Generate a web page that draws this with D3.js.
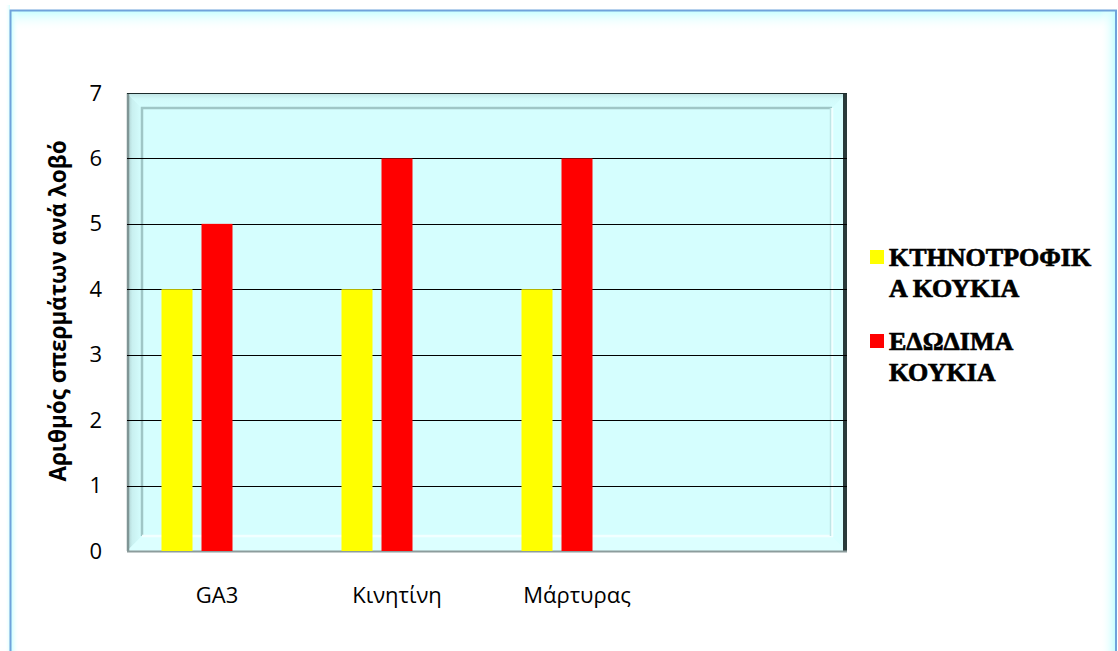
<!DOCTYPE html>
<html>
<head>
<meta charset="utf-8">
<script src="https://cdn.jsdelivr.net/npm/d3@7"></script>
<style>
  html, body { margin: 0; padding: 0; background: #ffffff; }
  svg { display: block; }
</style>
</head>
<body>
<svg id="chart" width="1118" height="651"></svg>
<script>
// Seeds per pod by treatment, for fodder beans and edible beans
const categories = ["GA3", "Κινητίνη", "Μάρτυρας", ""];
const seriesNames = ["ΚΤΗΝΟΤΡΟΦΙΚΑ ΚΟΥΚΙΑ", "ΕΔΩΔΙΜΑ ΚΟΥΚΙΑ"];
const legendLines = [["ΚΤΗΝΟΤΡΟΦΙΚ", "Α ΚΟΥΚΙΑ"], ["ΕΔΩΔΙΜΑ", "ΚΟΥΚΙΑ"]];
const fodderValues = [4, 4, 4, null];
const edibleValues = [5, 6, 6, null];
const seriesColors = ["#ffff00", "#ff0000"];
const yTicks = [0, 1, 2, 3, 4, 5, 6, 7];
const yTitle = "Αριθμός σπερμάτων ανά λοβό";

const svg = d3.select("#chart");
const W = 1118, H = 651;
const plot = { left: 127, top: 93, right: 847, bottom: 551 };
const bevel = 15;

const defs = svg.append("defs");

// ---- outer chart frame with a soft cyan inner glow ----
function edgeGradient(id, x1, y1, x2, y2) {
  const g = defs.append("linearGradient").attr("id", id)
    .attr("x1", x1).attr("y1", y1).attr("x2", x2).attr("y2", y2);
  g.append("stop").attr("offset", "0%").attr("stop-color", "#c8ffff");
  g.append("stop").attr("offset", "100%").attr("stop-color", "#ffffff").attr("stop-opacity", 0);
}
edgeGradient("glowTop", 0, 0, 0, 1);
edgeGradient("glowLeft", 0, 0, 1, 0);
edgeGradient("glowRight", 1, 0, 0, 0);

svg.append("rect").attr("x", 0).attr("y", 0).attr("width", W).attr("height", H).attr("fill", "#ffffff");
svg.append("rect").attr("x", 11).attr("y", 11).attr("width", 1104).attr("height", 20).attr("fill", "url(#glowTop)");
svg.append("rect").attr("x", 11).attr("y", 11).attr("width", 8).attr("height", H).attr("fill", "url(#glowLeft)");
svg.append("rect").attr("x", 1100).attr("y", 11).attr("width", 15).attr("height", H).attr("fill", "url(#glowRight)");
svg.append("rect").attr("x", 5).attr("y", 5).attr("width", 5).attr("height", H).attr("fill", "url(#glowRight)").attr("opacity", 0.7);
svg.append("rect").attr("x", 10.5).attr("y", 10.5).attr("width", 1105.5).attr("height", 700)
  .attr("fill", "none").attr("stroke", "#6fa3db").attr("stroke-width", 2);

// ---- scales ----
const x0 = d3.scaleBand().domain(categories).range([plot.left, plot.right]).padding(0);
const slotKeys = ["fodder", "edible", "spare"];
const x1 = d3.scaleBand().domain(slotKeys).range([0, x0.bandwidth()])
  .paddingInner(0.225).paddingOuter(0.8625);
const y = d3.scaleLinear().domain([0, 7]).range([plot.bottom, plot.top]);

// ---- plot area: light cyan wall with a bevelled frame ----
const pa = svg.append("g");
const pw = plot.right - plot.left, ph = plot.bottom - plot.top;
pa.append("rect").attr("x", plot.left).attr("y", plot.top).attr("width", pw).attr("height", ph).attr("fill", "#d5fefe");

const sideL = defs.append("linearGradient").attr("id", "sideL").attr("x1", 0).attr("x2", 1).attr("y1", 0).attr("y2", 0);
sideL.append("stop").attr("offset", "0%").attr("stop-color", "#a9caca");
sideL.append("stop").attr("offset", "35%").attr("stop-color", "#c9f0f0");
sideL.append("stop").attr("offset", "100%").attr("stop-color", "#d5fefe");
const sideT = defs.append("linearGradient").attr("id", "sideT").attr("x1", 0).attr("x2", 0).attr("y1", 0).attr("y2", 1);
sideT.append("stop").attr("offset", "0%").attr("stop-color", "#bfe2e2");
sideT.append("stop").attr("offset", "40%").attr("stop-color", "#d2fafa");
sideT.append("stop").attr("offset", "100%").attr("stop-color", "#d5fefe");

const L = plot.left, T = plot.top, R = plot.right, B = plot.bottom;
// left bevel face
pa.append("path").attr("d", `M${L},${T}L${L + bevel},${T + bevel}L${L + bevel},${B - bevel}L${L},${B}Z`).attr("fill", "url(#sideL)");
// top bevel face
pa.append("path").attr("d", `M${L},${T}L${R},${T}L${R - bevel},${T + bevel}L${L + bevel},${T + bevel}Z`).attr("fill", "url(#sideT)");
// bottom and right faces catch the light
pa.append("path").attr("d", `M${L},${B}L${L + bevel},${B - bevel}L${R - bevel},${B - bevel}L${R},${B}Z`).attr("fill", "#dcffff");
pa.append("path").attr("d", `M${R},${T}L${R},${B}L${R - bevel},${B - bevel}L${R - bevel},${T + bevel}Z`).attr("fill", "#d8ffff");
// inner edges of the bevel
pa.append("path").attr("d", `M${L + bevel},${B - bevel}V${T + bevel}H${R - bevel}`)
  .attr("fill", "none").attr("stroke", "#9fc6c6").attr("stroke-width", 2.5);
pa.append("path").attr("d", `M${L + bevel},${B - bevel}H${R - bevel}V${T + bevel}`)
  .attr("fill", "none").attr("stroke", "#f2ffff").attr("stroke-width", 2.5);
pa.append("path").attr("d", `M${R - bevel - 1.5},${B - bevel}V${T + bevel}`)
  .attr("fill", "none").attr("stroke", "#bfe6e6").attr("stroke-width", 1.5);
// outer border: dark left/right, grey bottom, thin top
pa.append("line").attr("x1", L + 1).attr("x2", L + 1).attr("y1", T).attr("y2", B).attr("stroke", "#7f9595").attr("stroke-width", 2.5);
pa.append("line").attr("x1", R - 2).attr("x2", R - 2).attr("y1", T).attr("y2", B).attr("stroke", "#2a3a3a").attr("stroke-width", 4);
pa.append("line").attr("x1", L).attr("x2", R).attr("y1", B + 0.5).attr("y2", B + 0.5).attr("stroke", "#8c9c9c").attr("stroke-width", 2);
pa.append("line").attr("x1", L).attr("x2", R).attr("y1", T + 0.5).attr("y2", T + 0.5).attr("stroke", "#1c2c2c").attr("stroke-width", 1.2);

// ---- gridlines ----
svg.append("g").selectAll("line").data(yTicks.filter(t => t > 0 && t < 7)).join("line")
  .attr("x1", L).attr("x2", R)
  .attr("y1", d => Math.round(y(d)) + 0.5).attr("y2", d => Math.round(y(d)) + 0.5)
  .attr("stroke", "#000000").attr("stroke-width", 1.2);

// ---- bars ----
const rows = categories.map((c, i) => ({ cat: c, fodder: fodderValues[i], edible: edibleValues[i] }));
const keys = ["fodder", "edible"];
svg.append("g").selectAll("g").data(rows).join("g")
  .attr("transform", d => `translate(${x0(d.cat)},0)`)
  .selectAll("rect")
  .data(d => keys.map((k, j) => ({ key: k, value: d[k], color: seriesColors[j] })).filter(e => e.value != null))
  .join("rect")
  .attr("x", d => x1(d.key))
  .attr("width", x1.bandwidth())
  .attr("y", d => y(d.value))
  .attr("height", d => y(0) - y(d.value))
  .attr("fill", d => d.color);

// ---- y axis labels ----
const yAxis = d3.axisLeft(y).tickValues(yTicks).tickSize(0).tickPadding(25).tickFormat(d3.format("d"));
const yg = svg.append("g").attr("transform", `translate(${L},0)`).call(yAxis);
yg.select(".domain").remove();
yg.selectAll("text").attr("font-family", "'Open Sans', sans-serif").attr("font-size", 22).attr("fill", "#000");

// ---- x axis labels ----
const xAxis = d3.axisBottom(x0).tickSize(0).tickPadding(36);
const xg = svg.append("g").attr("transform", `translate(0,${B})`).call(xAxis);
xg.select(".domain").remove();
xg.selectAll("text").attr("font-family", "'Open Sans', sans-serif").attr("font-size", 22).attr("fill", "#000");

// ---- y axis title ----
svg.append("text")
  .attr("transform", `translate(66,${(T + B) / 2 - 11}) rotate(-90)`)
  .attr("text-anchor", "middle")
  .attr("font-family", "'Open Sans', sans-serif").attr("font-weight", "bold").attr("font-size", 22.5)
  .attr("fill", "#000")
  .text(yTitle);

// ---- legend ----
const legend = svg.append("g");
const legendTop = [266, 350];
legendLines.forEach((lines, i) => {
  const by = legendTop[i];
  legend.append("rect").attr("x", 870).attr("y", by - 16).attr("width", 14).attr("height", 14).attr("fill", seriesColors[i]);
  const t = legend.append("text")
    .attr("font-family", "'Liberation Serif', 'DejaVu Serif', serif")
    .attr("font-weight", "bold").attr("font-size", 26).attr("fill", "#000")
    .attr("stroke", "#000").attr("stroke-width", 0.7);
  t.append("title").text(seriesNames[i]);
  lines.forEach((ln, k) => {
    t.append("tspan").attr("x", 889).attr("y", by + k * 30.5).text(ln);
  });
});
</script>
</body>
</html>
